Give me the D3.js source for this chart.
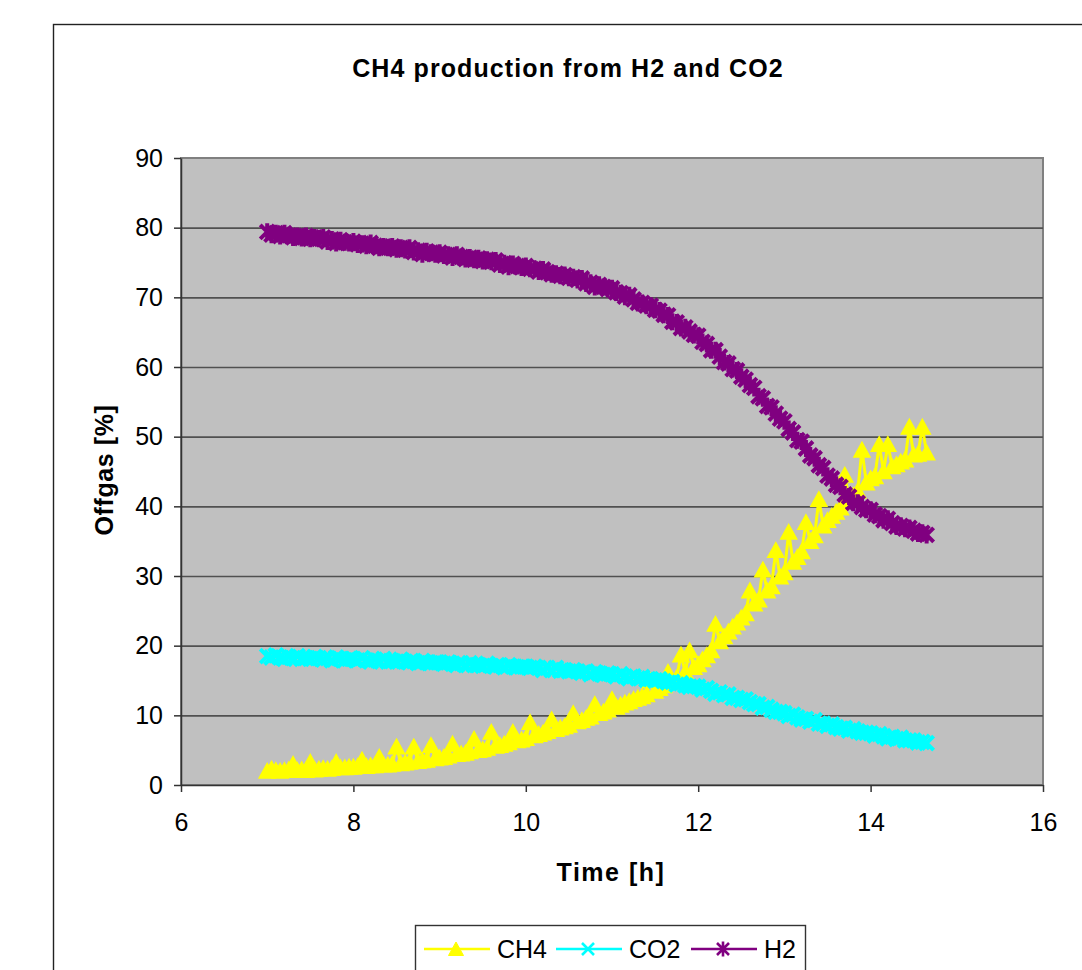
<!DOCTYPE html>
<html>
<head>
<meta charset="utf-8">
<script src="https://cdn.jsdelivr.net/npm/d3@7"></script>
<style>
  html, body { margin: 0; padding: 0; background: #fff; }
  svg { display: block; }
  text { font-family: "Liberation Sans", Arial, sans-serif; fill: #000; }
</style>
</head>
<body>
<svg id="chart" width="1082" height="970"></svg>
<script>
// Sampling times [h], one reading every 3 minutes
const timeH = [
  7.00, 7.05, 7.10, 7.15, 7.20, 7.25, 7.30, 7.35, 7.40, 7.45,
  7.50, 7.55, 7.60, 7.65, 7.70, 7.75, 7.80, 7.85, 7.90, 7.95,
  8.00, 8.05, 8.10, 8.15, 8.20, 8.25, 8.30, 8.35, 8.40, 8.45,
  8.50, 8.55, 8.60, 8.65, 8.70, 8.75, 8.80, 8.85, 8.90, 8.95,
  9.00, 9.05, 9.10, 9.15, 9.20, 9.25, 9.30, 9.35, 9.40, 9.45,
  9.50, 9.55, 9.60, 9.65, 9.70, 9.75, 9.80, 9.85, 9.90, 9.95,
  10.00, 10.05, 10.10, 10.15, 10.20, 10.25, 10.30, 10.35, 10.40, 10.45,
  10.50, 10.55, 10.60, 10.65, 10.70, 10.75, 10.80, 10.85, 10.90, 10.95,
  11.00, 11.05, 11.10, 11.15, 11.20, 11.25, 11.30, 11.35, 11.40, 11.45,
  11.50, 11.55, 11.60, 11.65, 11.70, 11.75, 11.80, 11.85, 11.90, 11.95,
  12.00, 12.05, 12.10, 12.15, 12.20, 12.25, 12.30, 12.35, 12.40, 12.45,
  12.50, 12.55, 12.60, 12.65, 12.70, 12.75, 12.80, 12.85, 12.90, 12.95,
  13.00, 13.05, 13.10, 13.15, 13.20, 13.25, 13.30, 13.35, 13.40, 13.45,
  13.50, 13.55, 13.60, 13.65, 13.70, 13.75, 13.80, 13.85, 13.90, 13.95,
  14.00, 14.05, 14.10, 14.15, 14.20, 14.25, 14.30, 14.35, 14.40, 14.45,
  14.50, 14.55, 14.60, 14.65
];

// Offgas CH4 [%]
const ch4 = [
  2.0, 2.3, 2.1, 2.0, 2.1, 2.2, 3.0, 2.1, 2.2, 2.1,
  3.3, 2.2, 2.3, 2.4, 2.3, 2.4, 3.3, 2.5, 2.5, 2.6,
  2.6, 2.7, 3.6, 2.7, 2.8, 2.8, 4.0, 2.9, 2.9, 3.0,
  5.5, 3.1, 3.2, 3.3, 5.5, 3.4, 3.5, 3.6, 5.7, 3.8,
  3.9, 4.0, 4.2, 5.9, 4.4, 4.5, 4.6, 4.8, 6.6, 5.0,
  5.1, 5.3, 7.6, 5.6, 5.7, 5.9, 6.1, 7.6, 6.4, 6.5,
  6.7, 9.0, 7.1, 7.3, 7.5, 7.7, 9.4, 8.0, 8.2, 8.4,
  8.6, 10.3, 9.1, 9.3, 9.6, 9.8, 11.6, 10.3, 10.5, 10.8,
  12.3, 11.2, 11.5, 11.8, 12.0, 12.3, 12.5, 12.7, 13.0, 15.0,
  13.5, 13.9, 14.3, 16.2, 15.0, 15.4, 18.7, 16.2, 19.3, 16.9,
  17.3, 18.0, 18.6, 19.3, 23.1, 20.6, 21.3, 22.0, 22.7, 23.3,
  24.0, 24.6, 27.9, 26.0, 26.6, 30.9, 27.9, 28.5, 33.7, 29.9,
  30.5, 36.3, 32.0, 32.7, 33.5, 37.7, 35.0, 35.8, 41.0, 37.2,
  38.0, 38.6, 39.2, 39.8, 44.5, 41.0, 41.6, 42.2, 48.1, 43.4,
  44.0, 44.3, 48.9, 45.0, 48.9, 45.7, 46.0, 46.4, 46.7, 51.4,
  47.4, 47.5, 51.4, 47.7
];

// Offgas CO2 [%]
const co2 = [
  18.5, 18.3, 18.6, 18.3, 18.1, 18.4, 18.2, 18.5, 18.1, 18.2,
  18.1, 18.4, 18.2, 18.0, 18.2, 17.9, 18.3, 18.1, 17.9, 18.1,
  18.1, 17.9, 18.2, 17.9, 17.7, 18.0, 17.8, 18.1, 17.7, 17.8,
  17.7, 18.0, 17.7, 17.6, 17.8, 17.5, 17.8, 17.6, 17.5, 17.6,
  17.6, 17.4, 17.6, 17.4, 17.2, 17.5, 17.2, 17.5, 17.2, 17.2,
  17.1, 17.4, 17.1, 17.0, 17.2, 16.9, 17.2, 17.0, 16.9, 17.0,
  17.0, 16.8, 17.0, 16.8, 16.5, 16.8, 16.5, 16.8, 16.4, 16.5,
  16.3, 16.5, 16.3, 16.1, 16.3, 15.9, 16.2, 16.0, 15.8, 16.0,
  15.9, 15.6, 15.9, 15.6, 15.3, 15.6, 15.3, 15.5, 15.1, 15.2,
  15.0, 15.2, 14.9, 14.7, 14.8, 14.4, 14.6, 14.3, 14.1, 14.2,
  14.1, 13.7, 13.9, 13.5, 13.1, 13.3, 12.9, 13.0, 12.5, 12.5,
  12.2, 12.3, 11.9, 11.6, 11.6, 11.1, 11.2, 10.8, 10.5, 10.5,
  10.3, 9.9, 10.1, 9.7, 9.4, 9.5, 9.1, 9.3, 8.8, 8.8,
  8.5, 8.7, 8.3, 8.1, 8.2, 7.8, 8.0, 7.7, 7.5, 7.5,
  7.4, 7.1, 7.3, 7.0, 6.7, 6.9, 6.6, 6.8, 6.4, 6.4,
  6.4, 6.1, 6.2, 6.0
];

// Offgas H2 [%]
const h2 = [
  79.4, 79.0, 79.2, 78.8, 79.2, 78.9, 78.6, 78.8, 78.5, 78.8,
  78.4, 78.6, 78.4, 78.6, 78.0, 78.3, 77.8, 78.2, 77.9, 77.8,
  78.0, 77.6, 77.7, 77.4, 77.8, 77.4, 77.1, 77.3, 77.1, 77.3,
  76.9, 77.1, 76.8, 77.1, 76.5, 76.7, 76.2, 76.6, 76.4, 76.2,
  76.4, 76.0, 76.1, 75.7, 76.1, 75.8, 75.5, 75.7, 75.4, 75.6,
  75.2, 75.4, 75.1, 75.3, 74.7, 74.9, 74.4, 74.8, 74.5, 74.3,
  74.5, 74.1, 74.1, 73.7, 74.0, 73.6, 73.3, 73.4, 73.1, 73.2,
  72.8, 72.9, 72.5, 72.7, 72.0, 72.1, 71.5, 71.8, 71.5, 71.2,
  71.3, 70.7, 70.6, 70.1, 70.3, 69.7, 69.2, 69.2, 68.8, 68.8,
  68.2, 68.1, 67.5, 67.4, 66.5, 66.4, 65.6, 65.7, 65.1, 64.6,
  64.5, 63.6, 63.3, 62.4, 62.4, 61.5, 60.7, 60.5, 59.7, 59.5,
  58.6, 58.2, 57.4, 57.0, 55.8, 55.5, 54.4, 54.2, 53.3, 52.6,
  52.2, 51.1, 50.6, 49.5, 49.3, 48.3, 47.3, 46.9, 45.9, 45.5,
  44.4, 44.0, 43.1, 42.8, 41.7, 41.4, 40.5, 40.5, 39.9, 39.5,
  39.5, 38.8, 38.6, 38.0, 38.2, 37.6, 37.1, 37.2, 36.8, 36.9,
  36.5, 36.1, 36.2, 35.9
];

const seriesNames = ["CH4", "CO2", "H2"];
const seriesColors = ["#ffff00", "#00ffff", "#800080"];
const xTicks = [6, 8, 10, 12, 14, 16];
const yTicks = [0, 10, 20, 30, 40, 50, 60, 70, 80, 90];
const chartTitle = "CH4 production from H2 and CO2";
const xTitle = "Time [h]";
const yTitle = "Offgas [%]";

const seriesValues = [ch4, co2, h2];

// marker shapes in the plot: triangle, cross, asterisk
const markerPaths = [
  "M0,-7.5L8,7L-8,7Z",
  "M-7,-7L7,7M-7,7L7,-7",
  "M-7,-7L7,7M-7,7L7,-7M0,-8.5L0,8.5"
];
// smaller versions for the legend keys
const legendMarkerPaths = [
  "M0,-7L7.5,6.5L-7.5,6.5Z",
  "M-6,-6L6,6M-6,6L6,-6",
  "M-6,-6L6,6M-6,6L6,-6M0,-7.5L0,7.5"
];

const svg = d3.select("#chart");
const plot = { left: 181, top: 158, right: 1043, bottom: 785 };

const x = d3.scaleLinear().domain([6, 16]).range([plot.left, plot.right]);
const y = d3.scaleLinear().domain([0, 90]).range([plot.bottom, plot.top]);

// chart frame
svg.append("rect")
  .attr("x", 53.5).attr("y", 24.5)
  .attr("width", 1100).attr("height", 1000)
  .attr("fill", "#fff")
  .attr("stroke", "#222").attr("stroke-width", 1.4);

// plot area
svg.append("rect")
  .attr("x", plot.left).attr("y", plot.top)
  .attr("width", plot.right - plot.left).attr("height", plot.bottom - plot.top)
  .attr("fill", "#c0c0c0")
  .attr("stroke", "#808080").attr("stroke-width", 2);

// horizontal gridlines
svg.append("g")
  .attr("transform", `translate(${plot.left},0)`)
  .call(d3.axisLeft(y).tickValues(yTicks.filter(v => v > 0 && v < 90))
    .tickSize(-(plot.right - plot.left)).tickFormat(""))
  .call(g => g.select(".domain").remove())
  .call(g => g.selectAll("line").attr("stroke", "#505050").attr("stroke-width", 1.6));

// y axis
svg.append("g")
  .attr("transform", `translate(${plot.left},0)`)
  .call(d3.axisLeft(y).tickValues(yTicks).tickSize(7).tickPadding(11).tickSizeOuter(0))
  .call(g => g.select(".domain").attr("stroke", "#333").attr("stroke-width", 1.5))
  .call(g => g.selectAll(".tick line").attr("stroke", "#333").attr("stroke-width", 1.5))
  .call(g => g.selectAll("text").attr("font-size", 25)
    .attr("font-family", "'Liberation Sans', Arial, sans-serif").attr("fill", "#000"));

// x axis
svg.append("g")
  .attr("transform", `translate(0,${plot.bottom})`)
  .call(d3.axisBottom(x).tickValues(xTicks).tickSize(7).tickPadding(21).tickSizeOuter(0))
  .call(g => g.select(".domain").attr("stroke", "#333").attr("stroke-width", 1.5))
  .call(g => g.selectAll(".tick line").attr("stroke", "#333").attr("stroke-width", 1.5))
  .call(g => g.selectAll("text").attr("font-size", 25)
    .attr("font-family", "'Liberation Sans', Arial, sans-serif").attr("fill", "#000"));

// series: connecting line plus markers at every reading
const line = d3.line().x(d => x(d[0])).y(d => y(d[1]));

const seriesLayer = svg.append("g");
seriesNames.forEach((name, i) => {
  const pts = timeH.map((t, k) => [t, seriesValues[i][k]]);
  const g = seriesLayer.append("g").attr("class", "series-" + name);
  g.append("path")
    .attr("d", line(pts))
    .attr("fill", "none")
    .attr("stroke", seriesColors[i])
    .attr("stroke-width", 3);
  g.selectAll("path.marker")
    .data(pts)
    .join("path")
    .attr("class", "marker")
    .attr("transform", d => `translate(${x(d[0])},${y(d[1])})`)
    .attr("d", markerPaths[i])
    .attr("fill", i === 0 ? seriesColors[i] : "none")
    .attr("stroke", seriesColors[i])
    .attr("stroke-width", i === 0 ? 1.5 : 4);
});

// titles
svg.append("text")
  .attr("x", 568).attr("y", 77)
  .attr("text-anchor", "middle")
  .attr("font-size", 25).attr("font-weight", "bold")
  .attr("letter-spacing", 1.1)
  .text(chartTitle);

svg.append("text")
  .attr("x", 611).attr("y", 881)
  .attr("text-anchor", "middle")
  .attr("font-size", 25).attr("font-weight", "bold")
  .attr("letter-spacing", 1.5)
  .text(xTitle);

svg.append("text")
  .attr("transform", "translate(113,470) rotate(-90)")
  .attr("text-anchor", "middle")
  .attr("font-size", 25).attr("font-weight", "bold")
  .attr("letter-spacing", 0.6)
  .text(yTitle);

// legend
const legend = svg.append("g");
legend.append("rect")
  .attr("x", 415.5).attr("y", 925.5)
  .attr("width", 390).attr("height", 80)
  .attr("fill", "#fff")
  .attr("stroke", "#333").attr("stroke-width", 1.4);

const legendX = [424, 556, 691];
seriesNames.forEach((name, i) => {
  const lx = legendX[i];
  const ly = 949;
  const item = legend.append("g");
  item.append("line")
    .attr("x1", lx).attr("x2", lx + 66)
    .attr("y1", ly).attr("y2", ly)
    .attr("stroke", seriesColors[i]).attr("stroke-width", 2.5);
  item.append("path")
    .attr("transform", `translate(${lx + 32},${ly})`)
    .attr("d", legendMarkerPaths[i])
    .attr("fill", i === 0 ? seriesColors[i] : "none")
    .attr("stroke", seriesColors[i])
    .attr("stroke-width", i === 0 ? 1 : 2.6);
  item.append("text")
    .attr("x", lx + 73).attr("y", ly + 9)
    .attr("font-size", 25)
    .text(name);
});
</script>
</body>
</html>
